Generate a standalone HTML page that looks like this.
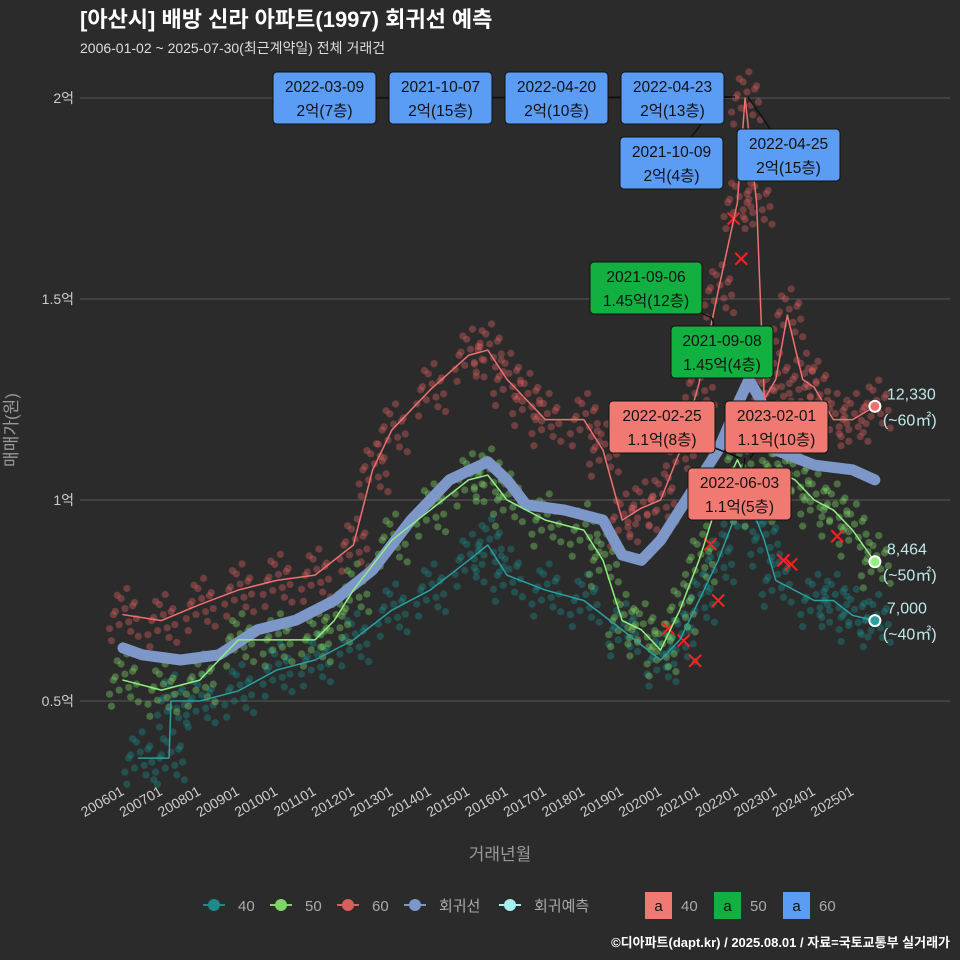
<!DOCTYPE html>
<html><head><meta charset="utf-8">
<style>
body{margin:0;background:#2b2b2b;}
svg{display:block;font-family:"Liberation Sans","Noto Sans CJK KR",sans-serif;}
</style></head>
<body>
<svg id="chart" width="960" height="960" viewBox="0 0 960 960" xmlns="http://www.w3.org/2000/svg">
<rect width="960" height="960" fill="#2b2b2b"/>
<text x="80" y="27" fill="#ffffff" font-size="22" font-weight="bold">[아산시] 배방 신라 아파트(1997) 회귀선 예측</text>
<text x="80" y="53" fill="#dddddd" font-size="14">2006-01-02 ~ 2025-07-30(최근계약일) 전체 거래건</text>
<g id="grid"></g>
<g id="scatter"></g>
<g id="lines"></g>
<g id="axes"></g>
<text x="17" y="430" fill="#999" font-size="17" transform="rotate(-90 17 430)" text-anchor="middle">매매가(원)</text>
<text x="500" y="860" fill="#999" font-size="17" text-anchor="middle">거래년월</text>
<g id="ann"></g>
<g id="legend"></g>
<text x="950" y="947" fill="#ffffff" font-size="13" font-weight="bold" text-anchor="end">©디아파트(dapt.kr) / 2025.08.01 / 자료=국토교통부 실거래가</text>
</svg>
<script>
// ---- data ----
const yTicks = [5000, 10000, 15000, 20000];
const yTickLabels = ["0.5억", "1억", "1.5억", "2억"];
const xTickYears = [2006,2007,2008,2009,2010,2011,2012,2013,2014,2015,2016,2017,2018,2019,2020,2021,2022,2023,2024,2025];
const xTickLabels = ["200601","200701","200801","200901","201001","201101","201201","201301","201401","201501","201601","201701","201801","201901","202001","202101","202201","202301","202401","202501"];
const t60 = [2006,2007,2008,2009,2010,2011,2012,2012.5,2013,2014,2015,2015.5,2016,2016.5,2017,2018,2018.5,2019,2019.5,2020,2020.5,2021,2021.5,2022,2022.2,2022.5,2022.7,2023,2023.3,2023.7,2024,2024.5,2025,2025.58];
const v60 = [7150,7000,7400,7760,8000,8130,8880,10750,11740,12740,13600,13730,13000,12500,12000,12000,11240,9500,9800,10000,11200,12900,15200,17400,20000,17400,12500,13000,14600,13000,12800,12000,12000,12330];
const t50 = [2006,2007,2008,2009,2010,2011,2011.5,2012,2013,2014,2015,2015.5,2016,2017,2018,2018.5,2019,2019.5,2020,2020.5,2021,2021.5,2022,2022.5,2022.8,2023,2023.5,2024,2024.5,2025,2025.58];
const v50 = [5520,5270,5520,6520,6520,6520,7000,7760,9000,9750,10500,10620,10000,9500,9250,8500,7000,6770,6270,7260,8500,10000,11000,10000,10500,10750,10500,10000,9750,9250,8464];
const t40 = [2006.4,2007.2,2007.25,2008,2009,2010,2011,2012,2013,2014,2015,2015.5,2016,2017,2018,2019,2020,2020.5,2021,2021.5,2022,2022.3,2022.7,2023,2024,2024.5,2025,2025.58];
const v40 = [3580,3580,5000,5000,5250,5770,6020,6520,7260,7760,8500,8880,8130,7760,7500,6770,6020,6520,7500,8500,9750,10000,9000,8000,7500,7500,7130,7000];
const tReg = [2006,2006.5,2007.5,2008.5,2009.5,2010.5,2011.5,2012.5,2013.5,2014.5,2015.5,2016,2016.5,2017.5,2018.5,2019,2019.5,2020,2020.5,2021,2021.5,2022,2022.3,2022.6,2023,2024,2025,2025.58];
const vReg = [6320,6150,6020,6150,6770,7010,7500,8260,9500,10500,10950,10500,9880,9750,9500,8630,8500,9000,9750,10500,11240,12370,12990,12500,11240,10870,10750,10500];
const cancelT = [2020.2,2020.6,2020.9,2021.3,2021.5,2021.7,2021.9,2022.1,2023.2,2023.4,2024.6];
const cancelV = [6800,6500,6000,8900,7500,14000,17000,16000,8500,8400,9100];
const jitterV = [-650,-420,-250,-100,0,150,300,480,650,-350,220,-180,400,-540,80];
const jitterT = [-0.3,0.2,-0.1,0.35,-0.25,0.05,0.3,-0.15,0.1,-0.35,0.25,0.15,-0.05,0.4,-0.2];
// ---- scales ----
const xs = y => 123 + (y - 2006) * 38.4;
const ys = v => 500 - (v - 10000) * 0.0402;
const NS = "http://www.w3.org/2000/svg";
function mk(tag, attrs, parent){const e=document.createElementNS(NS,tag);for(const k in attrs)e.setAttribute(k,attrs[k]);parent.appendChild(e);return e;}
const grid=document.getElementById('grid'), axes=document.getElementById('axes');
yTicks.forEach((v,i)=>{
  const l=mk('line',{x1:80,x2:950,y1:ys(v),y2:ys(v),stroke:'#5a5a5a','stroke-width':1},grid);
  
  
  const t=mk('text',{x:74,y:ys(v)+5,fill:'#cccccc','font-size':14,'text-anchor':'end'},axes);
  t.textContent=yTickLabels[i];
  
  
});
xTickYears.forEach((yr,i)=>{
  const x=xs(yr)+2;
  const t=mk('text',{x:x,y:794,fill:'#cccccc','font-size':14,'text-anchor':'end',transform:`rotate(-30 ${x} 794)`},axes);
  t.textContent=xTickLabels[i];
  
  
});
const sc=document.getElementById('scatter'), ln=document.getElementById('lines');
function scatter(ts,vs,col){
  ts.forEach((t,i)=>{jitterV.forEach((j,k)=>{
    const c=mk('circle',{cx:xs(t+jitterT[k]),cy:ys(vs[i]+j),r:3.6,fill:col,'fill-opacity':0.4},sc);
    
    
  });});
}
scatter(t40,v40,'#1f8a8a');scatter(t50,v50,'#7ed46a');scatter(t60,v60,'#d95f5f');
cancelT.forEach((t,i)=>{
  const x=xs(t),y=ys(cancelV[i]);
  const p=mk('path',{d:`M${x-6},${y-6}L${x+6},${y+6}M${x-6},${y+6}L${x+6},${y-6}`,stroke:'#ff2020','stroke-width':2},sc);
  
  
});
function line(ts,vs,col,w,name){
  const p=mk('path',{d:ts.map((t,i)=>(i?'L':'M')+xs(t)+','+ys(vs[i])).join(''),fill:'none',stroke:col,'stroke-width':w,'stroke-linejoin':'round','stroke-linecap':'round'},ln);
  
  
}
line(tReg,vReg,'#7d98c8',11,'regression-line');
line(t40,v40,'#2aa0a0',1.5,'line-40');
line(t50,v50,'#90f080',1.5,'line-50');
line(t60,v60,'#f07070',1.5,'line-60');
[[t60,v60,'#f07070','12,330','(~60㎡)'],[t50,v50,'#90f080','8,464','(~50㎡)'],[t40,v40,'#2aa0a0','7,000','(~40㎡)']].forEach(s=>{
  const n=s[0].length-1,x=xs(s[0][n]),y=ys(s[1][n]);
  const c=mk('circle',{cx:x,cy:y,r:5.5,fill:s[2],stroke:'#fff','stroke-width':2},ln);
  
  
  const t1=mk('text',{x:x+12,y:y-7,fill:'#bfe8e8','font-size':16},ln);t1.textContent=s[3];
  
  
  const t2=mk('text',{x:x+8,y:y+19,fill:'#bfe8e8','font-size':16},ln);t2.textContent=s[4];
  
  
});
const ann=document.getElementById('ann');
const boxes=[
 [273,72,103,52,'#5b9cf5','2022-03-09','2억(7층)',730,97],
 [389,72,103,52,'#5b9cf5','2021-10-07','2억(15층)',730,97],
 [505,72,103,52,'#5b9cf5','2022-04-20','2억(10층)',730,97],
 [621,72,103,52,'#5b9cf5','2022-04-23','2억(13층)',735,97],
 [620,137,103,52,'#5b9cf5','2021-10-09','2억(4층)',712,110],
 [737,129,103,52,'#5b9cf5','2022-04-25','2억(15층)',748,97],
 [590,262,112,52,'#12b040','2021-09-06','1.45억(12층)',712,318],
 [671,326,102,52,'#12b040','2021-09-08','1.45억(4층)',712,318],
 [609,401,106,52,'#f07a72','2022-02-25','1.1억(8층)',740,458],
 [725,401,103,52,'#f07a72','2023-02-01','1.1억(10층)',750,458],
 [688,468,103,52,'#f07a72','2022-06-03','1.1억(5층)',745,458]
];
boxes.forEach(b=>{
  const cx=b[0]+b[2]/2, cy=b[1]+b[3]/2;
  const l=mk('line',{x1:cx,y1:cy,x2:b[7],y2:b[8],stroke:'#111','stroke-width':1.5},ann);
  
  
});
boxes.forEach(b=>{
  const g=mk('g',{},ann);
  
  
  mk('rect',{x:b[0],y:b[1],width:b[2],height:b[3],rx:4,fill:b[4],stroke:'#111','stroke-width':1},g);
  const t1=mk('text',{x:b[0]+b[2]/2,y:b[1]+20,'font-size':15.5,'text-anchor':'middle',fill:'#111'},g);t1.textContent=b[5];
  const t2=mk('text',{x:b[0]+b[2]/2,y:b[1]+44,'font-size':15.5,'text-anchor':'middle',fill:'#111'},g);t2.textContent=b[6];
});
const lg=document.getElementById('legend');
const items=[[203,'#1f8a8a','40'],[270,'#7ed46a','50'],[337,'#d95f5f','60'],[404,'#7d98c8','회귀선'],[499,'#a8f0f0','회귀예측']];
items.forEach(it=>{
  const g=mk('g',{},lg);
  
  
  mk('line',{x1:it[0],x2:it[0]+22,y1:905,y2:905,stroke:it[1],'stroke-width':2},g);
  mk('circle',{cx:it[0]+11,cy:905,r:6,fill:it[1]},g);
  const t=mk('text',{x:it[0]+35,y:911,fill:'#aaaaaa','font-size':15},g);t.textContent=it[2];
});
[[645,'#f07a72','40'],[714,'#12b040','50'],[783,'#5b9cf5','60']].forEach(it=>{
  const g=mk('g',{},lg);
  
  
  mk('rect',{x:it[0],y:892,width:27,height:27,fill:it[1]},g);
  const a=mk('text',{x:it[0]+13.5,y:911,'font-size':15,'text-anchor':'middle',fill:'#111'},g);a.textContent='a';
  const t=mk('text',{x:it[0]+36,y:911,fill:'#aaaaaa','font-size':15},g);t.textContent=it[2];
});
</script>
</body></html>
